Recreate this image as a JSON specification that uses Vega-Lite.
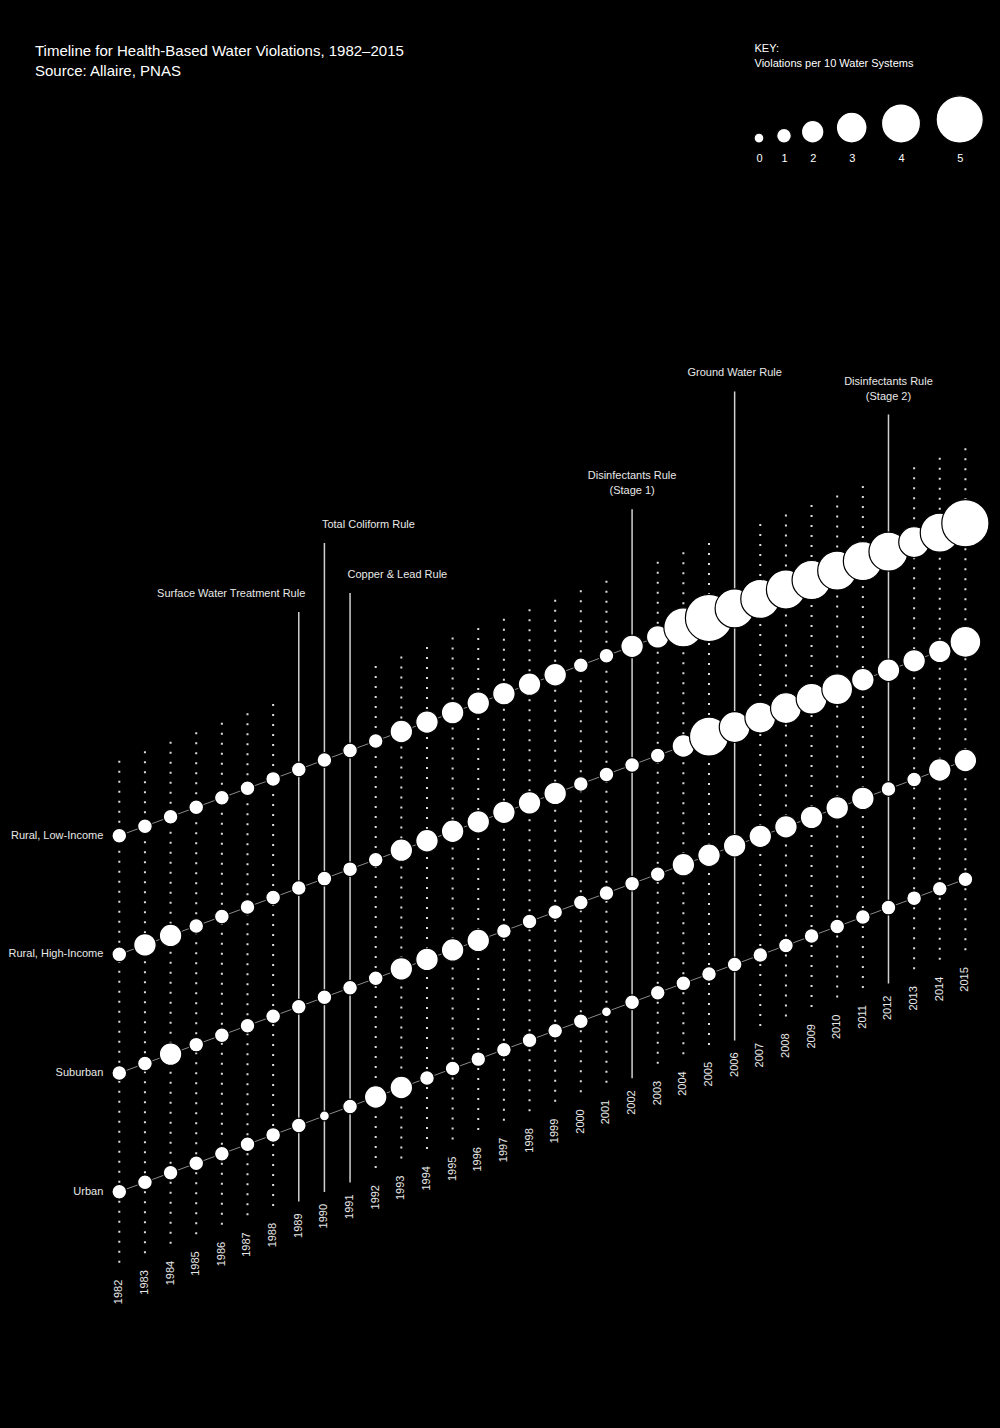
{
  "$schema": "https://vega.github.io/schema/vega-lite/v6.json",
  "width": 1000,
  "height": 1428,
  "autosize": {"type": "none"},
  "padding": 0,
  "background": "#000000",
  "config": {"view": {"stroke": null}, "font": "Liberation Sans"},
  "title": {
    "text": ["Timeline for Health-Based Water Violations, 1982–2015", "Source: Allaire, PNAS"],
    "anchor": "start", "frame": "group", "orient": "top", "offset": 0,
    "baseline": "top", "dx": 35, "dy": 79,
    "font": "Liberation Sans", "fontSize": 15, "fontWeight": "normal", "color": "#ffffff", "lineHeight": 20
  },
  "datasets": {
    "violations": [
      {"year":1982,"group":"Rural, Low-Income","value":1},{"year":1983,"group":"Rural, Low-Income","value":1},{"year":1984,"group":"Rural, Low-Income","value":1},{"year":1985,"group":"Rural, Low-Income","value":1},{"year":1986,"group":"Rural, Low-Income","value":1},{"year":1987,"group":"Rural, Low-Income","value":1},{"year":1988,"group":"Rural, Low-Income","value":1},{"year":1989,"group":"Rural, Low-Income","value":1},{"year":1990,"group":"Rural, Low-Income","value":1},{"year":1991,"group":"Rural, Low-Income","value":1},{"year":1992,"group":"Rural, Low-Income","value":1},{"year":1993,"group":"Rural, Low-Income","value":2},{"year":1994,"group":"Rural, Low-Income","value":2},{"year":1995,"group":"Rural, Low-Income","value":2},{"year":1996,"group":"Rural, Low-Income","value":2},{"year":1997,"group":"Rural, Low-Income","value":2},{"year":1998,"group":"Rural, Low-Income","value":2},{"year":1999,"group":"Rural, Low-Income","value":2},{"year":2000,"group":"Rural, Low-Income","value":1},{"year":2001,"group":"Rural, Low-Income","value":1},{"year":2002,"group":"Rural, Low-Income","value":2},{"year":2003,"group":"Rural, Low-Income","value":2},{"year":2004,"group":"Rural, Low-Income","value":4},{"year":2005,"group":"Rural, Low-Income","value":5},{"year":2006,"group":"Rural, Low-Income","value":4},{"year":2007,"group":"Rural, Low-Income","value":4},{"year":2008,"group":"Rural, Low-Income","value":4},{"year":2009,"group":"Rural, Low-Income","value":4},{"year":2010,"group":"Rural, Low-Income","value":4},{"year":2011,"group":"Rural, Low-Income","value":4},{"year":2012,"group":"Rural, Low-Income","value":4},{"year":2013,"group":"Rural, Low-Income","value":3},{"year":2014,"group":"Rural, Low-Income","value":4},{"year":2015,"group":"Rural, Low-Income","value":5},
      {"year":1982,"group":"Rural, High-Income","value":1},{"year":1983,"group":"Rural, High-Income","value":2},{"year":1984,"group":"Rural, High-Income","value":2},{"year":1985,"group":"Rural, High-Income","value":1},{"year":1986,"group":"Rural, High-Income","value":1},{"year":1987,"group":"Rural, High-Income","value":1},{"year":1988,"group":"Rural, High-Income","value":1},{"year":1989,"group":"Rural, High-Income","value":1},{"year":1990,"group":"Rural, High-Income","value":1},{"year":1991,"group":"Rural, High-Income","value":1},{"year":1992,"group":"Rural, High-Income","value":1},{"year":1993,"group":"Rural, High-Income","value":2},{"year":1994,"group":"Rural, High-Income","value":2},{"year":1995,"group":"Rural, High-Income","value":2},{"year":1996,"group":"Rural, High-Income","value":2},{"year":1997,"group":"Rural, High-Income","value":2},{"year":1998,"group":"Rural, High-Income","value":2},{"year":1999,"group":"Rural, High-Income","value":2},{"year":2000,"group":"Rural, High-Income","value":1},{"year":2001,"group":"Rural, High-Income","value":1},{"year":2002,"group":"Rural, High-Income","value":1},{"year":2003,"group":"Rural, High-Income","value":1},{"year":2004,"group":"Rural, High-Income","value":2},{"year":2005,"group":"Rural, High-Income","value":4},{"year":2006,"group":"Rural, High-Income","value":3},{"year":2007,"group":"Rural, High-Income","value":3},{"year":2008,"group":"Rural, High-Income","value":3},{"year":2009,"group":"Rural, High-Income","value":3},{"year":2010,"group":"Rural, High-Income","value":3},{"year":2011,"group":"Rural, High-Income","value":2},{"year":2012,"group":"Rural, High-Income","value":2},{"year":2013,"group":"Rural, High-Income","value":2},{"year":2014,"group":"Rural, High-Income","value":2},{"year":2015,"group":"Rural, High-Income","value":3},
      {"year":1982,"group":"Suburban","value":1},{"year":1983,"group":"Suburban","value":1},{"year":1984,"group":"Suburban","value":2},{"year":1985,"group":"Suburban","value":1},{"year":1986,"group":"Suburban","value":1},{"year":1987,"group":"Suburban","value":1},{"year":1988,"group":"Suburban","value":1},{"year":1989,"group":"Suburban","value":1},{"year":1990,"group":"Suburban","value":1},{"year":1991,"group":"Suburban","value":1},{"year":1992,"group":"Suburban","value":1},{"year":1993,"group":"Suburban","value":2},{"year":1994,"group":"Suburban","value":2},{"year":1995,"group":"Suburban","value":2},{"year":1996,"group":"Suburban","value":2},{"year":1997,"group":"Suburban","value":1},{"year":1998,"group":"Suburban","value":1},{"year":1999,"group":"Suburban","value":1},{"year":2000,"group":"Suburban","value":1},{"year":2001,"group":"Suburban","value":1},{"year":2002,"group":"Suburban","value":1},{"year":2003,"group":"Suburban","value":1},{"year":2004,"group":"Suburban","value":2},{"year":2005,"group":"Suburban","value":2},{"year":2006,"group":"Suburban","value":2},{"year":2007,"group":"Suburban","value":2},{"year":2008,"group":"Suburban","value":2},{"year":2009,"group":"Suburban","value":2},{"year":2010,"group":"Suburban","value":2},{"year":2011,"group":"Suburban","value":2},{"year":2012,"group":"Suburban","value":1},{"year":2013,"group":"Suburban","value":1},{"year":2014,"group":"Suburban","value":2},{"year":2015,"group":"Suburban","value":2},
      {"year":1982,"group":"Urban","value":1},{"year":1983,"group":"Urban","value":1},{"year":1984,"group":"Urban","value":1},{"year":1985,"group":"Urban","value":1},{"year":1986,"group":"Urban","value":1},{"year":1987,"group":"Urban","value":1},{"year":1988,"group":"Urban","value":1},{"year":1989,"group":"Urban","value":1},{"year":1990,"group":"Urban","value":0},{"year":1991,"group":"Urban","value":1},{"year":1992,"group":"Urban","value":2},{"year":1993,"group":"Urban","value":2},{"year":1994,"group":"Urban","value":1},{"year":1995,"group":"Urban","value":1},{"year":1996,"group":"Urban","value":1},{"year":1997,"group":"Urban","value":1},{"year":1998,"group":"Urban","value":1},{"year":1999,"group":"Urban","value":1},{"year":2000,"group":"Urban","value":1},{"year":2001,"group":"Urban","value":0},{"year":2002,"group":"Urban","value":1},{"year":2003,"group":"Urban","value":1},{"year":2004,"group":"Urban","value":1},{"year":2005,"group":"Urban","value":1},{"year":2006,"group":"Urban","value":1},{"year":2007,"group":"Urban","value":1},{"year":2008,"group":"Urban","value":1},{"year":2009,"group":"Urban","value":1},{"year":2010,"group":"Urban","value":1},{"year":2011,"group":"Urban","value":1},{"year":2012,"group":"Urban","value":1},{"year":2013,"group":"Urban","value":1},{"year":2014,"group":"Urban","value":1},{"year":2015,"group":"Urban","value":1}
    ],
    "rules": [
      {"year": 1989, "label": "Surface Water Treatment Rule"},
      {"year": 1990, "label": "Total Coliform Rule"},
      {"year": 1991, "label": "Copper & Lead Rule"},
      {"year": 2002, "label": "Disinfectants Rule\n(Stage 1)"},
      {"year": 2006, "label": "Ground Water Rule"},
      {"year": 2012, "label": "Disinfectants Rule\n(Stage 2)"}
    ],
    "key": [{"value": 0}, {"value": 1}, {"value": 2}, {"value": 3}, {"value": 4}, {"value": 5}]
  },
  "resolve": {"scale": {"x": "independent", "y": "independent"}, "axis": {"x": "independent", "y": "independent"}},
  "layer": [
    {
      "encoding": {
        "x": {"field": "year", "type": "quantitative", "scale": {"domain": [1982, 2015], "range": [119.3, 965.4], "nice": false, "zero": false}, "axis": null},
        "y": {"field": "year", "type": "ordinal", "scale": {"type": "point", "range": [1191.7, 879.2], "padding": 0}, "axis": null}
      },
      "layer": [
        {
          "data": {"name": "violations"},
          "transform": [
            {"filter": {"field": "group", "equal": "Urban"}},
            {"filter": {"not": {"field": "year", "oneOf": [1989, 1990, 1991, 2002, 2006, 2012]}}}
          ],
          "mark": {"type": "rule", "stroke": "#dcdcdc", "strokeWidth": 2, "strokeDash": [2, 8], "yOffset": -431, "y2Offset": 76},
          "encoding": {"y2": {"field": "year"}}
        },
        {
          "data": {"name": "rules"},
          "transform": [{"filter": "datum.year == 1989"}],
          "layer": [
            {"mark": {"type": "rule", "stroke": "#d0d0d0", "strokeWidth": 1.5, "yOffset": -513.5, "y2Offset": 76}, "encoding": {"y2": {"field": "year"}}},
            {"mark": {"type": "text", "align": "right", "baseline": "alphabetic", "dx": 6.5, "yOffset": -528.5, "fontSize": 11, "color": "#e8e8e8", "lineBreak": "\n", "lineHeight": 15}, "encoding": {"text": {"field": "label", "type": "nominal"}}}
          ]
        },
        {
          "data": {"name": "rules"},
          "transform": [{"filter": "datum.year == 1990"}],
          "layer": [
            {"mark": {"type": "rule", "stroke": "#d0d0d0", "strokeWidth": 1.5, "yOffset": -573, "y2Offset": 76}, "encoding": {"y2": {"field": "year"}}},
            {"mark": {"type": "text", "align": "left", "baseline": "alphabetic", "dx": -2.5, "yOffset": -588, "fontSize": 11, "color": "#e8e8e8", "lineBreak": "\n", "lineHeight": 15}, "encoding": {"text": {"field": "label", "type": "nominal"}}}
          ]
        },
        {
          "data": {"name": "rules"},
          "transform": [{"filter": "datum.year == 1991"}],
          "layer": [
            {"mark": {"type": "rule", "stroke": "#d0d0d0", "strokeWidth": 1.5, "yOffset": -513.5, "y2Offset": 76}, "encoding": {"y2": {"field": "year"}}},
            {"mark": {"type": "text", "align": "left", "baseline": "alphabetic", "dx": -2.5, "yOffset": -528.5, "fontSize": 11, "color": "#e8e8e8", "lineBreak": "\n", "lineHeight": 15}, "encoding": {"text": {"field": "label", "type": "nominal"}}}
          ]
        },
        {
          "data": {"name": "rules"},
          "transform": [{"filter": "datum.year == 2002 || datum.year == 2012"}],
          "layer": [
            {"mark": {"type": "rule", "stroke": "#d0d0d0", "strokeWidth": 1.5, "yOffset": -493, "y2Offset": 76}, "encoding": {"y2": {"field": "year"}}},
            {"mark": {"type": "text", "align": "center", "baseline": "alphabetic", "yOffset": -523, "fontSize": 11, "color": "#e8e8e8", "lineBreak": "\n", "lineHeight": 15}, "encoding": {"text": {"field": "label", "type": "nominal"}}}
          ]
        },
        {
          "data": {"name": "rules"},
          "transform": [{"filter": "datum.year == 2006"}],
          "layer": [
            {"mark": {"type": "rule", "stroke": "#d0d0d0", "strokeWidth": 1.5, "yOffset": -573, "y2Offset": 76}, "encoding": {"y2": {"field": "year"}}},
            {"mark": {"type": "text", "align": "center", "baseline": "alphabetic", "yOffset": -588, "fontSize": 11, "color": "#e8e8e8", "lineBreak": "\n", "lineHeight": 15}, "encoding": {"text": {"field": "label", "type": "nominal"}}}
          ]
        },
        {
          "data": {"name": "violations"},
          "mark": {"type": "line", "stroke": "#8a8a8a", "strokeWidth": 1},
          "encoding": {
            "yOffset": {"field": "group", "type": "nominal", "scale": {"type": "point", "domain": ["Rural, Low-Income", "Rural, High-Income", "Suburban", "Urban"], "range": [-356, 0], "padding": 0}},
            "detail": {"field": "group", "type": "nominal"}
          }
        },
        {
          "data": {"name": "violations"},
          "mark": {"type": "point", "shape": "circle", "filled": true, "fill": "#ffffff", "stroke": "#000000", "strokeWidth": 1.2, "opacity": 1},
          "encoding": {
            "yOffset": {"field": "group", "type": "nominal", "scale": {"type": "point", "domain": ["Rural, Low-Income", "Rural, High-Income", "Suburban", "Urban"], "range": [-356, 0], "padding": 0}},
            "size": {"field": "value", "type": "quantitative", "scale": {"type": "pow", "exponent": 1.8, "domain": [0, 5], "range": [98, 2228], "zero": false, "nice": false}, "legend": null}
          }
        },
        {
          "data": {"name": "violations"},
          "transform": [{"filter": {"field": "group", "equal": "Urban"}}],
          "mark": {"type": "text", "angle": 270, "align": "right", "baseline": "middle", "yOffset": 88, "fontSize": 11, "color": "#e8e8e8"},
          "encoding": {"text": {"field": "year", "type": "nominal"}}
        },
        {
          "data": {"name": "violations"},
          "transform": [{"filter": {"field": "year", "equal": 1982}}],
          "mark": {"type": "text", "align": "right", "baseline": "middle", "dx": -16, "fontSize": 11, "color": "#e8e8e8"},
          "encoding": {
            "yOffset": {"field": "group", "type": "nominal", "scale": {"type": "point", "domain": ["Rural, Low-Income", "Rural, High-Income", "Suburban", "Urban"], "range": [-356, 0], "padding": 0}},
            "text": {"field": "group", "type": "nominal"}
          }
        }
      ]
    },
    {
      "data": {"name": "key"},
      "mark": {"type": "point", "shape": "M -1 -1 A 1 1 0 1 0 1 -1 A 1 1 0 1 0 -1 -1 Z", "filled": true, "fill": "#ffffff", "stroke": "#000000", "strokeWidth": 1.2, "opacity": 1},
      "encoding": {
        "x": {
          "field": "value", "type": "quantitative",
          "scale": {"domain": [0, 1, 2, 3, 4, 5], "range": [759, 784, 812.7, 851.7, 901, 959.7], "nice": false, "zero": false},
          "axis": {
            "orient": "bottom", "offset": -1285, "values": [0, 1, 2, 3, 4, 5], "format": "d",
            "domain": false, "ticks": false, "grid": false, "labelFlush": false, "labelOverlap": false,
            "labelPadding": 9.5, "labelFont": "Liberation Sans", "labelFontSize": 11, "labelColor": "#ffffff",
            "title": ["KEY:", "Violations per 10 Water Systems"],
            "titleX": 754, "titleY": -92, "titleAlign": "left", "titleAnchor": "start", "titleBaseline": "alphabetic", "titleAngle": 0,
            "titleFont": "Liberation Sans", "titleFontSize": 11, "titleFontWeight": "normal", "titleColor": "#ffffff", "titleLineHeight": 15
          }
        },
        "y": {"datum": 0, "type": "quantitative", "scale": {"domain": [0, 1], "range": [143, 0]}, "axis": null},
        "size": {"field": "value", "type": "quantitative", "scale": {"type": "pow", "exponent": 1.8, "domain": [0, 5], "range": [98, 2228], "zero": false, "nice": false}, "legend": null}
      }
    }
  ]
}
